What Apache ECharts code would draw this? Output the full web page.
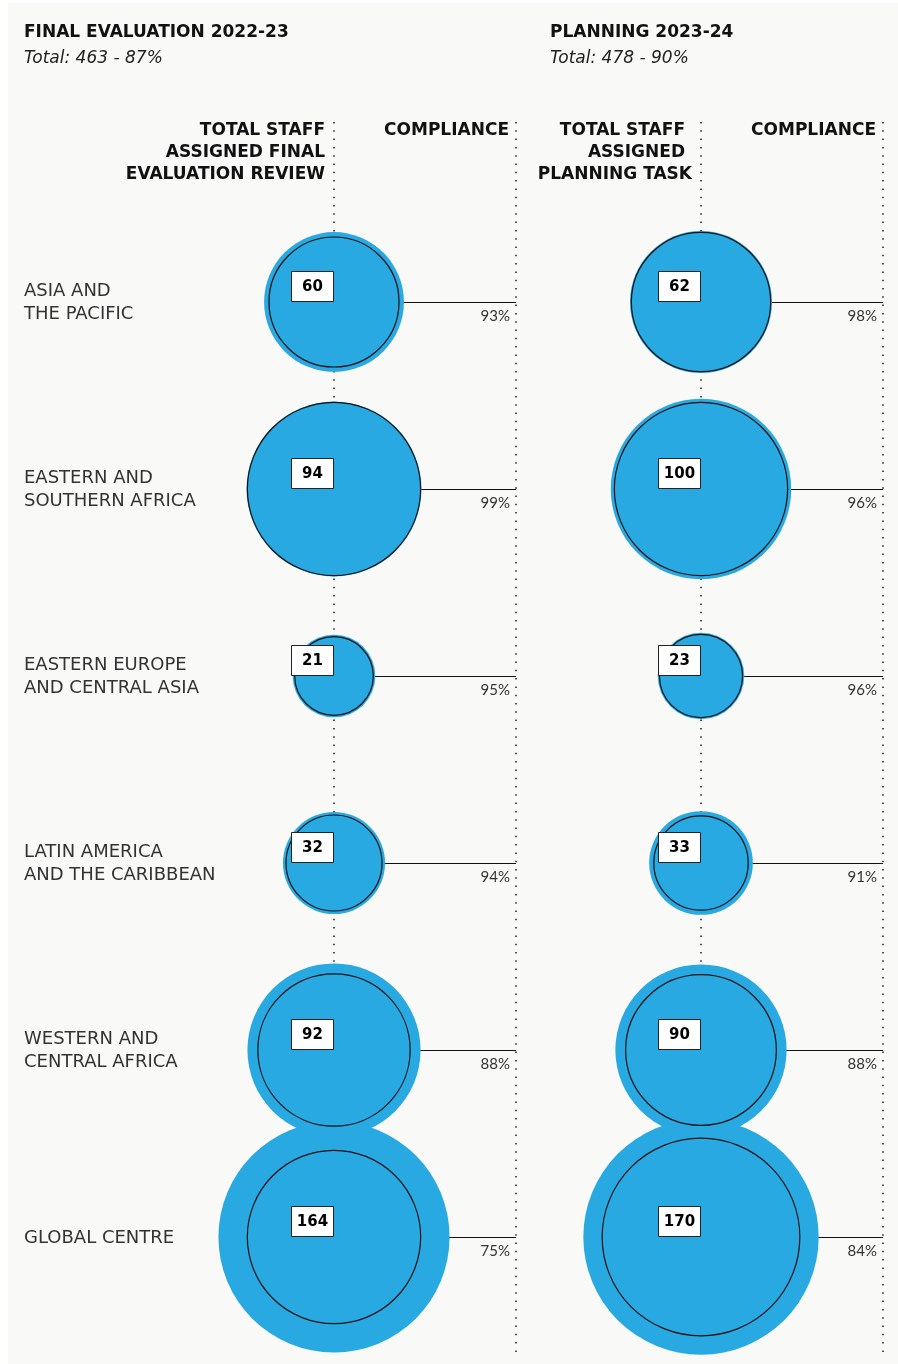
<!DOCTYPE html>
<html>
<head>
<meta charset="utf-8">
<title>Staff compliance by region</title>
<script src="https://cdn.jsdelivr.net/npm/echarts@6/dist/echarts.min.js"></script>
<style>
  html, body { margin: 0; padding: 0; background: #ffffff; }
  #chart { width: 898px; height: 1364px; }
</style>
</head>
<body>
<div id="chart"></div>
<script>
// Regions (one row each, top to bottom)
const regions = [
  'ASIA AND\nTHE PACIFIC',
  'EASTERN AND\nSOUTHERN AFRICA',
  'EASTERN EUROPE\nAND CENTRAL ASIA',
  'LATIN AMERICA\nAND THE CARIBBEAN',
  'WESTERN AND\nCENTRAL AFRICA',
  'GLOBAL CENTRE'
];

// Final evaluation 2022-23
const finalStaff = [60, 94, 21, 32, 92, 164];
const finalCompliance = [93, 99, 95, 94, 88, 75];

// Planning 2023-24
const planStaff = [62, 100, 23, 33, 90, 170];
const planCompliance = [98, 96, 96, 91, 88, 84];

const panelTitles = ['FINAL EVALUATION 2022-23', 'PLANNING 2023-24'];
const panelTotals = ['Total: 463 - 87%', 'Total: 478 - 90%'];

const FONT = '"DejaVu Sans", sans-serif';
const LIGHT_FONT = 'Lato, sans-serif';
const BLUE = '#29a9e1';
const INK = '#111111';
// Circle area is proportional to staff count
const SIZE_SCALE = 18.05;

function rows(staff, compliance) {
  return staff.map((s, i) => [0, i, s, compliance[i]]);
}

const panels = [rows(finalStaff, finalCompliance), rows(planStaff, planCompliance)];

const grids = [
  { left: 334, width: 182, top: 122, height: 1233 },
  { left: 701, width: 182, top: 122, height: 1233 }
];

const xAxes = grids.map((g, i) => ({
  gridIndex: i, type: 'value', min: 0, max: 1, interval: 1,
  axisLine: { show: false }, axisTick: { show: false }, axisLabel: { show: false },
  splitLine: { show: true, lineStyle: { color: '#222', width: 1.5, type: [1.5, 6.8] } }
}));

const yAxes = grids.map((g, i) => ({
  gridIndex: i, type: 'value', inverse: true, min: -0.9626, max: 5.631,
  axisLine: { show: false }, axisTick: { show: false }, axisLabel: { show: false },
  splitLine: { show: false }
}));

const series = [];

panels.forEach((data, p) => {
  // connector from circle centre to the compliance column, with the percentage
  series.push({
    type: 'custom', xAxisIndex: p, yAxisIndex: p, z: 1, silent: true, clip: false,
    encode: { x: 0, y: 1 },
    data: data,
    renderItem: function (params, api) {
      const a = api.coord([0, api.value(1)]);
      const b = api.coord([1, api.value(1)]);
      const y = Math.round(a[1]) + 0.5;
      return {
        type: 'group',
        children: [
          { type: 'line', shape: { x1: a[0], y1: y, x2: b[0], y2: y },
            style: { stroke: INK, lineWidth: 1 } },
          { type: 'text', x: b[0] - 6, y: a[1] + 14,
            style: { text: api.value(3) + '%', align: 'right', verticalAlign: 'middle',
                     fontFamily: LIGHT_FONT, fontSize: 15, fontWeight: 'normal', fill: '#333' } }
        ]
      };
    }
  });
  // total staff circle
  series.push({
    type: 'scatter', xAxisIndex: p, yAxisIndex: p, z: 2, silent: true,
    data: data,
    symbol: 'circle',
    symbolSize: v => SIZE_SCALE * Math.sqrt(v[2]),
    itemStyle: { color: BLUE, opacity: 1 }
  });
  // compliant share, drawn as a ring scaled by the compliance rate
  series.push({
    type: 'scatter', xAxisIndex: p, yAxisIndex: p, z: 3, silent: true,
    data: data,
    symbol: 'circle',
    symbolSize: v => SIZE_SCALE * Math.sqrt(v[2]) * v[3] / 100,
    itemStyle: { color: 'rgba(0,0,0,0)', borderColor: INK, borderWidth: 1.2, opacity: 1 }
  });
  // staff count tag
  series.push({
    type: 'custom', xAxisIndex: p, yAxisIndex: p, z: 5, silent: true, clip: false,
    encode: { x: 0, y: 1 },
    data: data,
    renderItem: function (params, api) {
      const c = api.coord([0, api.value(1)]);
      const x = Math.round(c[0]) - 0.5;
      const y = Math.round(c[1]) - 0.5;
      return {
        type: 'group',
        children: [
          { type: 'rect', shape: { x: x - 42, y: y - 30, width: 42, height: 30 },
            style: { fill: '#ffffff', stroke: '#222', lineWidth: 1 } },
          { type: 'text', x: x - 21, y: y - 14.5,
            style: { text: String(api.value(2)), align: 'center', verticalAlign: 'middle',
                     fontFamily: FONT, fontSize: 15, fontWeight: 'bold', fill: '#000' } }
        ]
      };
    }
  });
});

// region names down the left edge
series.push({
  type: 'custom', xAxisIndex: 0, yAxisIndex: 0, z: 1, silent: true, clip: false,
  encode: { x: 0, y: 1 },
  data: regions.map((r, i) => [0, i]),
  renderItem: function (params, api) {
    const c = api.coord([0, api.value(1)]);
    return {
      type: 'text', x: c[0] - 310, y: c[1] + 1,
      style: { text: regions[params.dataIndex], align: 'left', verticalAlign: 'middle',
               lineHeight: 23, fontFamily: FONT, fontSize: 18, fontWeight: 'normal', fill: '#333' }
    };
  }
});

function headerText(text, x, y, align, opts) {
  return {
    type: 'text', x: x, y: y + 1, z: 10,
    style: Object.assign({ text: text, align: align, verticalAlign: 'middle',
      fontFamily: FONT, fontSize: 17, fontWeight: 'bold', fill: '#111' }, opts || {})
  };
}

const totalStyle = { fontSize: 17, fontWeight: 'normal', fontStyle: 'italic', fill: '#222' };

const graphic = [
  { type: 'rect', z: -100, shape: { x: 8, y: 3, width: 890, height: 1361 }, style: { fill: '#f9f9f7' } },
  headerText(panelTitles[0], 24, 32, 'left'),
  headerText(panelTotals[0], 24, 58, 'left', totalStyle),
  headerText(panelTitles[1], 550, 32, 'left'),
  headerText(panelTotals[1], 550, 58, 'left', totalStyle),
  headerText('TOTAL STAFF', 325, 130, 'right'),
  headerText('ASSIGNED FINAL', 325, 152, 'right'),
  headerText('EVALUATION REVIEW', 325, 174, 'right'),
  headerText('COMPLIANCE', 509, 130, 'right'),
  headerText('TOTAL STAFF', 685, 130, 'right'),
  headerText('ASSIGNED', 685, 152, 'right'),
  headerText('PLANNING TASK', 692, 174, 'right'),
  headerText('COMPLIANCE', 876, 130, 'right')
];

const chart = echarts.init(document.getElementById('chart'), null, { renderer: 'canvas' });
chart.setOption({
  animation: false,
  backgroundColor: '#ffffff',
  grid: grids,
  xAxis: xAxes,
  yAxis: yAxes,
  series: series,
  graphic: graphic
});
</script>
</body>
</html>
